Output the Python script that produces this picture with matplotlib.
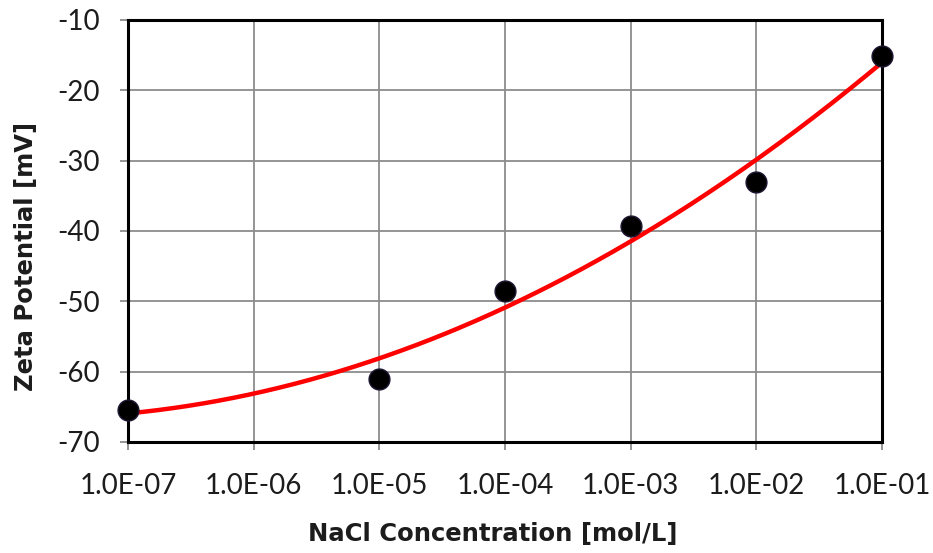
import numpy as np
import matplotlib
matplotlib.use("Agg")
import matplotlib.pyplot as plt

# Data
concentration = [1e-7, 1e-5, 1e-4, 1e-3, 1e-2, 1e-1]
zeta_mv = [-65.4, -61.0, -48.5, -39.3, -33.0, -15.1]
x_ticks = [1e-7, 1e-6, 1e-5, 1e-4, 1e-3, 1e-2, 1e-1]
x_tick_labels = ["1.0E-07", "1.0E-06", "1.0E-05", "1.0E-04", "1.0E-03", "1.0E-02", "1.0E-01"]
y_ticks = [-70, -60, -50, -40, -30, -20, -10]
y_tick_labels = ["-70", "-60", "-50", "-40", "-30", "-20", "-10"]

plt.rcParams['font.family'] = ['Lato', 'DejaVu Sans']

fig = plt.figure(figsize=(9.33, 5.53), dpi=100)
ax = fig.add_axes([128/933, 1-442/553, (882-128)/933, (442-20)/553])

# Trendline: quadratic least-squares fit in log10(x)
u = np.log10(concentration)
coef = np.polyfit(u, zeta_mv, 2)
uu = np.linspace(u.min(), u.max(), 300)
ax.plot(10**uu, np.polyval(coef, uu), color='#ff0000', lw=3.2, zorder=3, solid_capstyle='butt')

ax.plot(concentration, zeta_mv, 'o', color='black', markersize=15,
        markeredgecolor='#1e1633', markeredgewidth=1, zorder=4, clip_on=False)

ax.set_xscale('log')
ax.set_xlim(1e-7, 1e-1)
ax.set_ylim(-70, -10)
ax.set_xticks(x_ticks)
ax.set_xticklabels(x_tick_labels)
ax.minorticks_off()
ax.set_yticks(y_ticks)
ax.set_yticklabels(y_tick_labels)

ax.grid(True, color='#8c8c8c', lw=1.3)
ax.set_axisbelow(True)
for s in ax.spines.values():
    s.set_color('black')
    s.set_linewidth(2.2)

ax.tick_params(axis='both', length=6, width=1.3, color='#8c8c8c', labelsize=20,
               labelcolor='#1c1c1c')
ax.tick_params(axis='x', pad=16)
ax.tick_params(axis='y', pad=14)

fig.text(493/933, 1-534/553, 'NaCl Concentration [mol/L]', fontsize=17.5, fontweight='bold',
         color='#1c1c1c', ha='center', va='center', family='DejaVu Sans')
fig.text(26/933, 1-256/553, 'Zeta Potential [mV]', fontsize=17.5, fontweight='bold',
         color='#1c1c1c', ha='center', va='center', rotation=90, family='DejaVu Sans')

fig.savefig('out.png', dpi=100, facecolor='white')
